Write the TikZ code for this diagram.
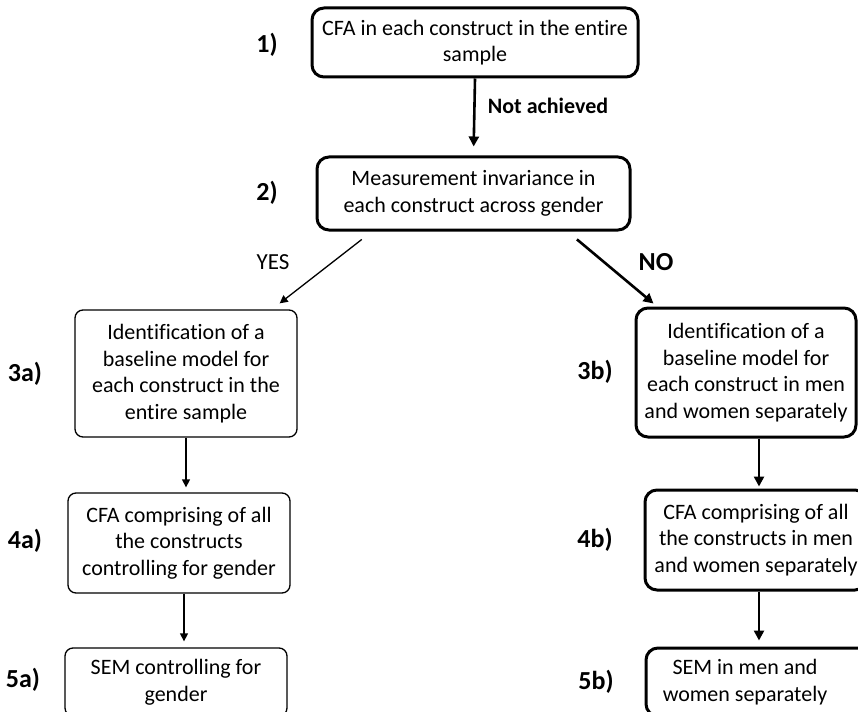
\documentclass[tikz,border=0pt]{standalone}
\usepackage{fontspec}
\setmainfont{Carlito}[Ligatures={NoCommon}]
\usetikzlibrary{arrows.meta}

\tikzset{
  txt/.style={font=\fontsize{22}{26.7}\selectfont, align=center},
  heavybox/.style={draw, line width=3pt, rounded corners=12pt, inner sep=0pt},
  lightbox/.style={draw, line width=1.3pt, rounded corners=8pt, inner sep=0pt},
  steplabel/.style={font=\fontsize{26}{30}\selectfont\bfseries},
  heavyarrow/.style={line width=2.6pt, -{Triangle[length=10pt,width=10pt]}},
  lightarrow/.style={line width=1.3pt, -{Triangle[length=8pt,width=8pt]}},
}

\begin{document}
\begin{tikzpicture}[x=1pt,y=-1pt]
  \useasboundingbox (0,0) rectangle (858,711);
  \clip (0,0) rectangle (858,711);
  \fill[white] (0,0) rectangle (858,711);

  % top of the flow
  \node[heavybox, txt, minimum width=326pt, minimum height=69pt] (b1) at (475,42.5)
    {CFA in each construct in the entire\\sample};
  \node[heavybox, txt, minimum width=313pt, minimum height=73pt] (b2) at (473.5,193.5)
    {Measurement invariance in\\each construct across gender};

  % left branch
  \node[lightbox, txt, minimum width=222pt, minimum height=127pt] (b3a) at (186,373.5)
    {Identification of a\\baseline model for\\each construct in the\\entire sample};
  \node[lightbox, txt, minimum width=222pt, minimum height=100pt] (b4a) at (179,543)
    {CFA comprising of all\\the constructs\\controlling for gender};
  \node[lightbox, txt, minimum width=222pt, minimum height=68pt] (b5a) at (176,682)
    {SEM controlling for\\gender};

  % right branch
  \node[heavybox, txt, minimum width=220pt, minimum height=129pt] (b3b) at (746,372.5)
    {Identification of a\\baseline model for\\each construct in men\\and women separately};
  \node[heavybox, txt, minimum width=222pt, minimum height=100pt] (b4b) at (756,540)
    {CFA comprising of all\\the constructs in men\\and women separately};
  \node[heavybox, minimum width=226pt, minimum height=68pt] (b5b) at (759,682) {};
  \node[txt] (t5b) at (745,682) {SEM in men and\\women separately};

  % step numbers
  \node[steplabel] (l1) at (267,45) {1)};
  \node[steplabel] (l2) at (267,193) {2)};
  \node[steplabel] (l3a) at (25,374) {3a)};
  \node[steplabel] (l4a) at (25,541) {4a)};
  \node[steplabel] (l5a) at (23,680) {5a)};
  \node[steplabel] (l3b) at (595,372) {3b)};
  \node[steplabel] (l4b) at (595,540) {4b)};
  \node[steplabel] (l5b) at (596,682) {5b)};

  % branch labels
  \node[font=\fontsize{22}{26}\selectfont\bfseries] (na) at (548,106) {Not achieved};
  \node[font=\fontsize{23}{27}\selectfont] (yes) at (273,262) {YES};
  \node[steplabel] (no) at (656,262) {NO};

  % connectors
  \draw[heavyarrow, shorten >=9pt] (b1.south) -- (b2.north);
  \draw[lightarrow, shorten <=12.9pt]
    ([xshift=-101.5pt]b2.south) -- ([xshift=-18pt,yshift=6pt]b3a.north east);
  \draw[heavyarrow, shorten <=12.3pt]
    ([xshift=94pt]b2.south) -- ([xshift=19pt,yshift=3pt]b3b.north west);

  \draw[lightarrow, shorten >=5pt] (b3a.south) -- (b3a.south |- b4a.north);
  \draw[lightarrow, shorten >=6pt] ([xshift=5pt]b4a.south) -- ([xshift=5pt]b4a.south |- b5a.north);

  \draw[heavyarrow, shorten >=2pt] ([xshift=13pt]b3b.south) -- ([xshift=13pt]b3b.south |- b4b.north);
  \draw[heavyarrow, shorten >=6pt] ([xshift=3pt]b4b.south) -- ([xshift=3pt]b4b.south |- b5b.north);
\end{tikzpicture}
\end{document}
